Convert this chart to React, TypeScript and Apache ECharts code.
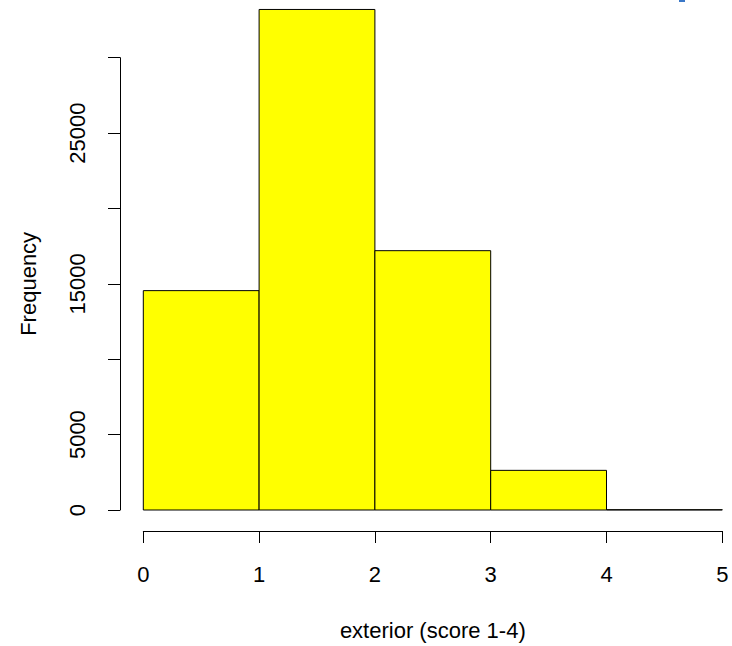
import React, { useEffect, useRef } from "react";
import * as echarts from "echarts";

const binStarts = [0, 1, 2, 3, 4];
const binEnds = [1, 2, 3, 4, 5];
const counts = [14550, 33200, 17200, 2630, 20];
const hiddenYLabels = [10000, 20000, 30000];
const xTitle = "exterior (score 1-4)";
const yTitle = "Frequency";

export default function App() {
  const ref = useRef<HTMLDivElement>(null);
  useEffect(() => {
    document.body.style.margin = "0";
    const chart = echarts.init(ref.current!, null, { renderer: "svg" });
    const data = binStarts.map((s, i) => [s, binEnds[i], counts[i]]);
    const font = "'Liberation Sans', Arial, Helvetica, sans-serif";
    chart.setOption({
      animation: false,
      backgroundColor: "#ffffff",
      grid: { left: 143.3, right: 9.7, top: 57.7, bottom: 135.3 },
      xAxis: {
        type: "value",
        min: 0,
        max: 5,
        interval: 1,
        offset: 21,
        splitLine: { show: false },
        axisLine: { show: true, onZero: false, lineStyle: { color: "#000", width: 1 } },
        axisTick: { show: true, length: 12, lineStyle: { color: "#000" } },
        axisLabel: { color: "#000", fontSize: 22, fontFamily: font, margin: 32 },
        name: xTitle,
        nameLocation: "middle",
        nameGap: 88,
        nameTextStyle: { color: "#000", fontSize: 22, fontFamily: font },
      },
      yAxis: {
        type: "value",
        min: 0,
        max: 30000,
        interval: 5000,
        offset: 23.3,
        splitLine: { show: false },
        axisLine: { show: true, onZero: false, lineStyle: { color: "#000", width: 1 } },
        axisTick: { show: true, length: 12, lineStyle: { color: "#000" } },
        axisLabel: {
          color: "#000",
          fontSize: 22,
          fontFamily: font,
          rotate: 90,
          margin: 32,
          formatter: (v: number) => (hiddenYLabels.includes(v) ? "" : String(v)),
        },
        name: yTitle,
        nameLocation: "middle",
        nameGap: 81,
        nameTextStyle: { color: "#000", fontSize: 22, fontFamily: font },
      },
      series: [
        {
          type: "custom",
          clip: false,
          data,
          encode: { x: [0, 1], y: 2 },
          renderItem: (params: any, api: any) => {
            const p0 = api.coord([api.value(0), api.value(2)]);
            const p1 = api.coord([api.value(1), 0]);
            return {
              type: "rect",
              shape: { x: p0[0], y: p0[1], width: p1[0] - p0[0], height: p1[1] - p0[1] },
              style: { fill: "#ffff00", stroke: "#000", lineWidth: 1 },
            };
          },
        },
      ],
      graphic: [
        { type: "rect", shape: { x: 679, y: 0, width: 6, height: 2 }, style: { fill: "#3a78c8" } },
      ],
    });
    return () => chart.dispose();
  }, []);
  return <div ref={ref} style={{ position: "fixed", left: 0, top: 0, width: 732, height: 646 }} />;
}
